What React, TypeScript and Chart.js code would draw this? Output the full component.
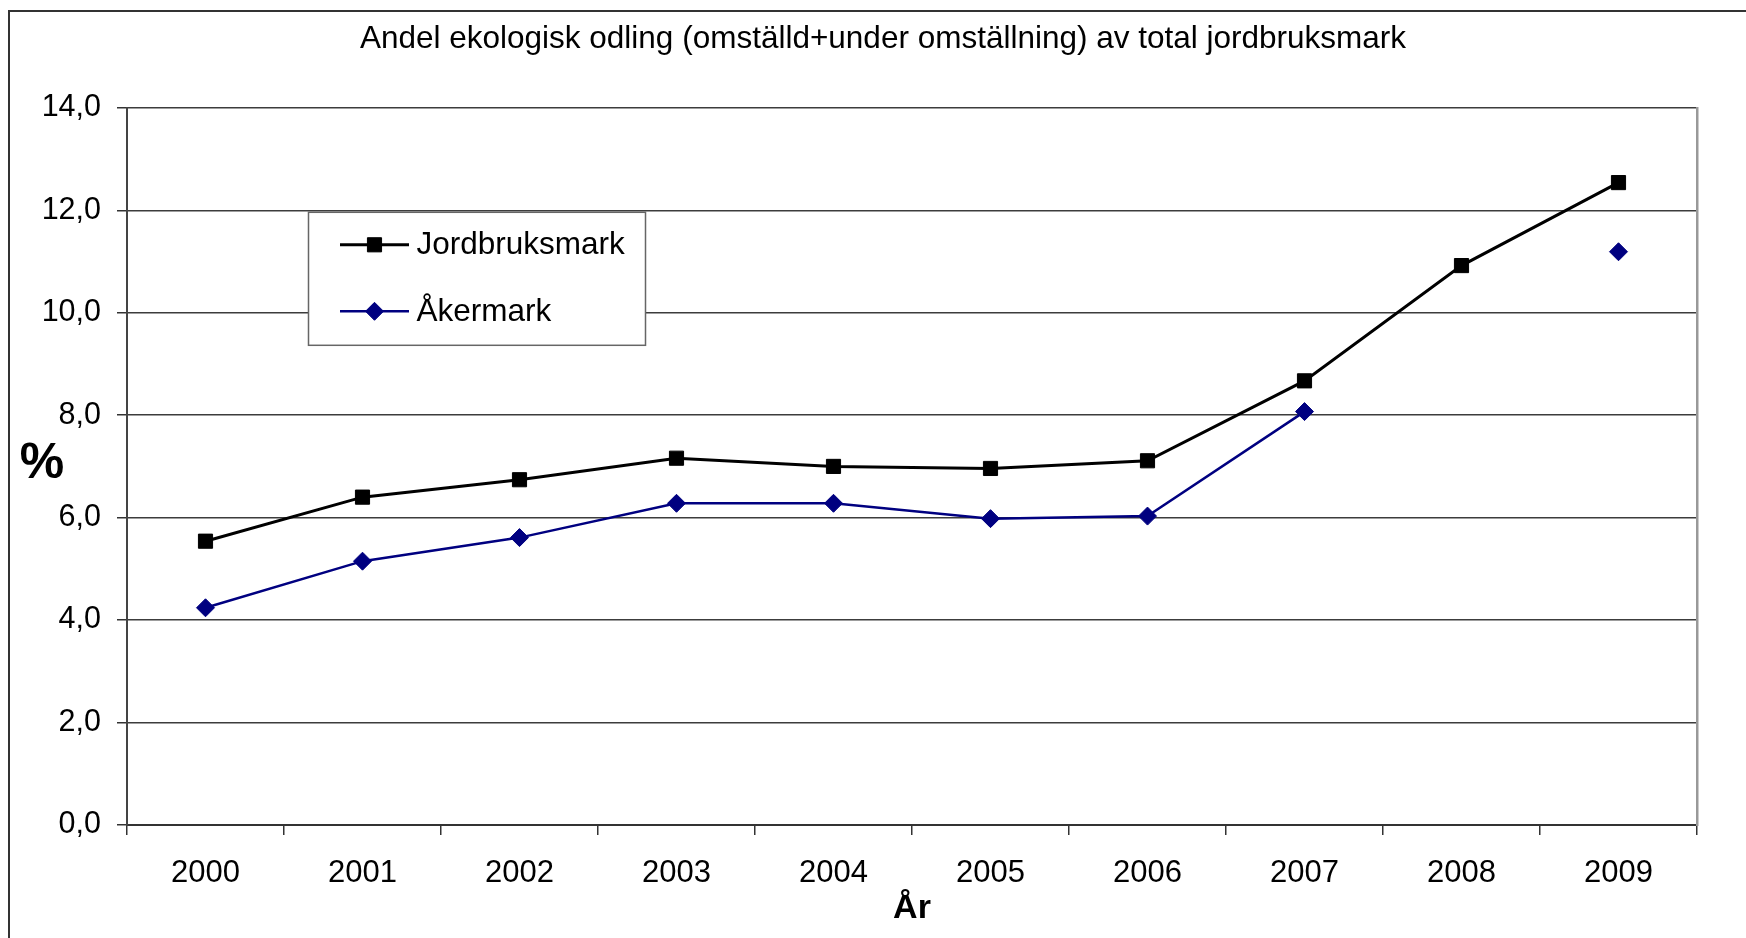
import React, { useEffect, useRef } from 'react';
import { Chart, registerables } from 'chart.js';

Chart.register(...registerables);

const categories = ['2000', '2001', '2002', '2003', '2004', '2005', '2006', '2007', '2008', '2009'];
const jordbruksmark = [5.54, 6.4, 6.74, 7.16, 7.0, 6.96, 7.11, 8.67, 10.92, 12.54];
const akermark: (number | null)[] = [4.24, 5.15, 5.61, 6.28, 6.28, 5.98, 6.03, 8.07, null, 11.19];
const yTickLabels = ['0,0', '2,0', '4,0', '6,0', '8,0', '10,0', '12,0', '14,0'];
const seriesLabels = ['Jordbruksmark', 'Åkermark'];
const titleText = 'Andel ekologisk odling (omställd+under omställning) av total jordbruksmark';
const xTitle = 'År';
const yTitle = '%';

const FONT = '"Liberation Sans", Arial, Helvetica, sans-serif';

function drawMarker(ctx: CanvasRenderingContext2D, style: string, x: number, y: number, r: number) {
  ctx.beginPath();
  if (style === 'rect') {
    const s = Math.SQRT1_2 * r;
    ctx.rect(x - s, y - s, 2 * s, 2 * s);
  } else {
    ctx.moveTo(x - r, y);
    ctx.lineTo(x, y - r);
    ctx.lineTo(x + r, y);
    ctx.lineTo(x, y + r);
    ctx.closePath();
  }
  ctx.fill();
  ctx.stroke();
}

const framePlugin = {
  id: 'frame',
  beforeDraw(chart: any) {
    const { ctx, width, height } = chart;
    ctx.save();
    ctx.fillStyle = '#ffffff';
    ctx.fillRect(0, 0, width, height);
    ctx.strokeStyle = '#333333';
    ctx.lineWidth = 2;
    ctx.beginPath();
    ctx.moveTo(9, height + 5);
    ctx.lineTo(9, 11);
    ctx.lineTo(width + 5, 11);
    ctx.stroke();
    ctx.restore();
  },
};

const extrasPlugin = {
  id: 'extras',
  afterDraw(chart: any) {
    const { ctx, chartArea } = chart;
    ctx.save();
    // y axis title, upright
    ctx.font = `bold 50px ${FONT}`;
    ctx.fillStyle = '#000';
    ctx.textAlign = 'center';
    ctx.textBaseline = 'middle';
    ctx.fillText(yTitle, 42, (chartArea.top + chartArea.bottom) / 2 - 2);

    // legend box inside plot area
    const bx = chartArea.left + 181.5;
    const by = chartArea.top + 104.5;
    const bw = 337;
    const bh = 133;
    ctx.fillStyle = '#ffffff';
    ctx.fillRect(bx, by, bw, bh);
    ctx.strokeStyle = '#666666';
    ctx.lineWidth = 1.5;
    ctx.strokeRect(bx, by, bw, bh);
    chart.data.datasets.forEach((ds: any, i: number) => {
      const cy = by + 32.5 + i * 66.5;
      ctx.strokeStyle = ds.borderColor;
      ctx.lineWidth = ds.borderWidth;
      ctx.beginPath();
      ctx.moveTo(bx + 31.5, cy);
      ctx.lineTo(bx + 100.5, cy);
      ctx.stroke();
      ctx.fillStyle = ds.pointBackgroundColor;
      ctx.strokeStyle = ds.pointBorderColor;
      ctx.lineWidth = ds.pointBorderWidth;
      drawMarker(ctx, ds.pointStyle, bx + 66, cy, ds.pointRadius);
      ctx.font = `31.5px ${FONT}`;
      ctx.fillStyle = '#000';
      ctx.textAlign = 'left';
      ctx.textBaseline = 'middle';
      ctx.fillText(ds.label, bx + 108, cy + 1);
    });
    ctx.restore();
  },
};

export default function App() {
  const ref = useRef<HTMLCanvasElement | null>(null);

  useEffect(() => {
    if (!ref.current) return;
    const chart = new Chart(ref.current, {
      type: 'line',
      data: {
        labels: categories,
        datasets: [
          {
            label: seriesLabels[0],
            data: jordbruksmark,
            borderColor: '#000000',
            borderWidth: 3,
            pointStyle: 'rect',
            pointRadius: 10,
            pointBackgroundColor: '#000000',
            pointBorderColor: '#000000',
            pointBorderWidth: 1,
            tension: 0,
            spanGaps: false,
          },
          {
            label: seriesLabels[1],
            data: akermark,
            borderColor: '#000080',
            borderWidth: 2.5,
            pointStyle: 'rectRot',
            pointRadius: 9,
            pointBackgroundColor: '#000080',
            pointBorderColor: '#000080',
            pointBorderWidth: 1,
            tension: 0,
            spanGaps: false,
          },
        ],
      },
      options: {
        responsive: false,
        animation: false,
        layout: { padding: { left: 20, right: 0, top: 0, bottom: 0 } },
        plugins: {
          legend: { display: false },
          tooltip: { enabled: false },
          title: {
            display: true,
            text: titleText,
            color: '#000',
            font: { family: FONT, size: 31.5, weight: 'normal' },
            padding: { top: 20, bottom: 50 },
          },
        },
        scales: {
          x: {
            offset: true,
            grid: {
              offset: true,
              drawOnChartArea: false,
              drawTicks: true,
              tickLength: 10,
              color: '#333333',
              lineWidth: 1.5,
            },
            border: { display: true, color: '#333333', width: 2 },
            ticks: {
              color: '#000',
              font: { family: FONT, size: 31 },
              padding: 20,
              maxRotation: 0,
              autoSkip: false,
            },
            title: {
              display: true,
              text: xTitle,
              color: '#000',
              font: { family: FONT, size: 34, weight: 'bold' },
              padding: { top: 0, bottom: 9 },
            },
            afterFit: (scale: any) => {
              scale.height = 113;
            },
          },
          y: {
            min: 0,
            max: 14,
            ticks: {
              stepSize: 2,
              color: '#000',
              font: { family: FONT, size: 30.5 },
              padding: 16,
              callback: (v: any) => yTickLabels[Math.round(Number(v) / 2)],
            },
            grid: {
              color: '#3c3c3c',
              lineWidth: 1.5,
              tickLength: 10,
              tickColor: '#333333',
              drawTicks: true,
            },
            border: { display: true, color: '#444444', width: 2 },
            afterFit: (scale: any) => {
              scale.width = 107;
            },
          },
          yRight: {
            position: 'right',
            display: true,
            grid: { display: false },
            ticks: { display: false },
            border: { display: true, color: '#999999', width: 2.5 },
            afterFit: (scale: any) => {
              scale.width = 49;
            },
          },
        },
      },
      plugins: [framePlugin, extrasPlugin],
    } as any);
    return () => chart.destroy();
  }, []);

  return (
    <div style={{ position: 'fixed', left: 0, top: 0, width: 1746, height: 938, background: '#fff' }}>
      <canvas ref={ref} width={1746} height={938} />
    </div>
  );
}
